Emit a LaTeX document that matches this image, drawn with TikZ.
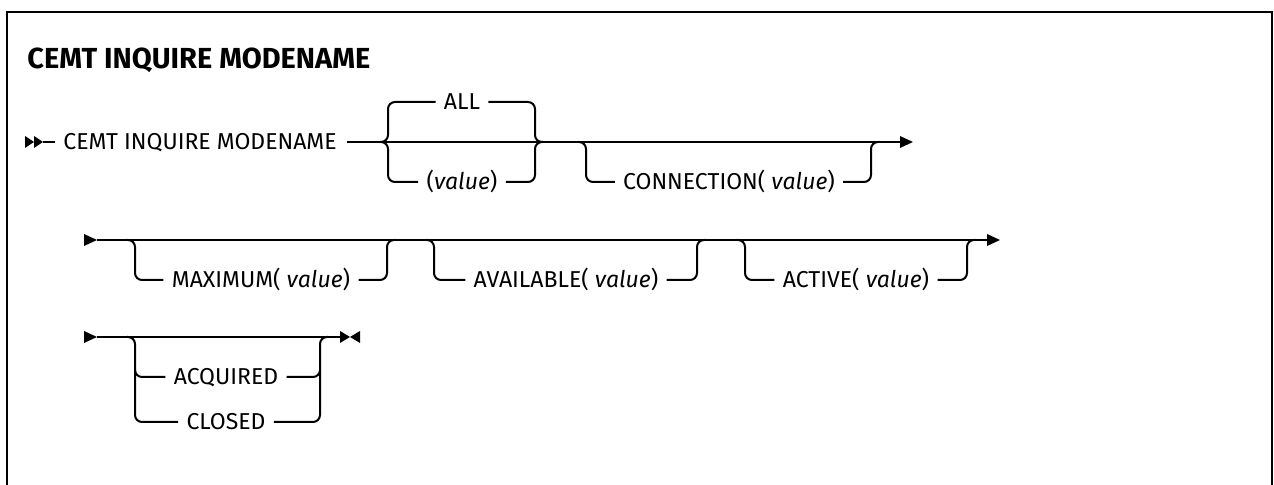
\documentclass[tikz,border=0pt]{standalone}
\usepackage{fontspec}
\setmainfont{Fira Sans}
\usetikzlibrary{positioning}

\tikzset{
  rail/.style={line width=1pt, rounded corners=3.5pt},
  kw/.style={font=\fontsize{11.5}{13}\selectfont, inner sep=4pt, text height=7.9pt, text depth=0pt},
}

\begin{document}
\begin{tikzpicture}[x=0.5pt, y=-0.5pt]
  \useasboundingbox (0,0) rectangle (1274,485);

  % Frame, open at the bottom
  \draw[line width=1.2pt] (7,485) -- (7,12) -- (1272,12) -- (1272,485);

  % Title
  \node[anchor=west, inner sep=0pt, font=\bfseries\fontsize{14.5}{16}\selectfont] (title) at (27,60) {CEMT INQUIRE MODENAME};

  % Row 1: start mark and command
  \fill (25,136) -- (34,142) -- (25,148) -- cycle;
  \fill (34,136) -- (43,142) -- (34,148) -- cycle;
  \node[kw, anchor=west] (cmd) at (55,142) {CEMT INQUIRE MODENAME};
  \coordinate (s1) at (43,142);
  \draw[rail] (s1) -- (cmd.west);

  % Row 1: main line
  \coordinate (r1s) at (347,142);
  \coordinate (r1e) at (900,142);
  \draw[rail] (r1s) -- (r1e);
  \fill (r1e) ++(0,-6) -- ++(13,6) -- ++(-13,6) -- cycle;

  % ALL (default) or (value)
  \node[kw] (all) at (462,102) {ALL};
  \node[kw] (val) at (462,182) {(\textit{value})};
  \draw[rail] (380,142) -| (388,102) -- (all.west);
  \draw[rail] (all.east) -| (535,142) -- (543,142);
  \draw[rail] (380,142) -| (388,182) -- (val.west);
  \draw[rail] (val.east) -| (535,142) -- (543,142);

  % CONNECTION
  \node[kw] (conn) at (729,182) {CONNECTION( \textit{value})};
  \draw[rail] (578,142) -| (586,182) -- (conn.west);
  \draw[rail] (conn.east) -| (871,142) -- (879,142);

  % Row 2: main line
  \coordinate (r2s) at (97,240);
  \coordinate (r2e) at (987,240);
  \fill (r2s) ++(-13,-6) -- ++(13,6) -- ++(-13,6) -- cycle;
  \draw[rail] (r2s) -- (r2e);
  \fill (r2e) ++(0,-6) -- ++(13,6) -- ++(-13,6) -- cycle;

  % MAXIMUM
  \node[kw] (maxi) at (261,280) {MAXIMUM( \textit{value})};
  \draw[rail] (127,240) -| (135,280) -- (maxi.west);
  \draw[rail] (maxi.east) -| (387,240) -- (395,240);

  % AVAILABLE
  \node[kw] (avail) at (566,280) {AVAILABLE( \textit{value})};
  \draw[rail] (426,240) -| (434,280) -- (avail.west);
  \draw[rail] (avail.east) -| (697,240) -- (705,240);

  % ACTIVE
  \node[kw] (activ) at (856,280) {ACTIVE( \textit{value})};
  \draw[rail] (737,240) -| (745,280) -- (activ.west);
  \draw[rail] (activ.east) -| (967,240) -- (975,240);

  % Row 3: main line and end mark
  \coordinate (r3s) at (97,337);
  \coordinate (r3e) at (340,337);
  \fill (r3s) ++(-13,-6) -- ++(13,6) -- ++(-13,6) -- cycle;
  \draw[rail] (r3s) -- (r3e);
  \fill (r3e) ++(0,-6) -- ++(10,6) -- ++(-10,6) -- cycle;
  \fill (r3e) ++(20,-6) -- ++(-10,6) -- ++(10,6) -- cycle;

  % ACQUIRED or CLOSED
  \node[kw] (acq) at (226,377) {ACQUIRED};
  \node[kw] (clsd) at (226,422) {CLOSED};
  \draw[rail] (127,337) -| (135,377) -- (acq.west);
  \draw[rail] (acq.east) -| (320,337) -- (328,337);
  \draw[rail] (135,370) |- (clsd.west);
  \draw[rail] (clsd.east) -| (320,370);
\end{tikzpicture}
\end{document}
